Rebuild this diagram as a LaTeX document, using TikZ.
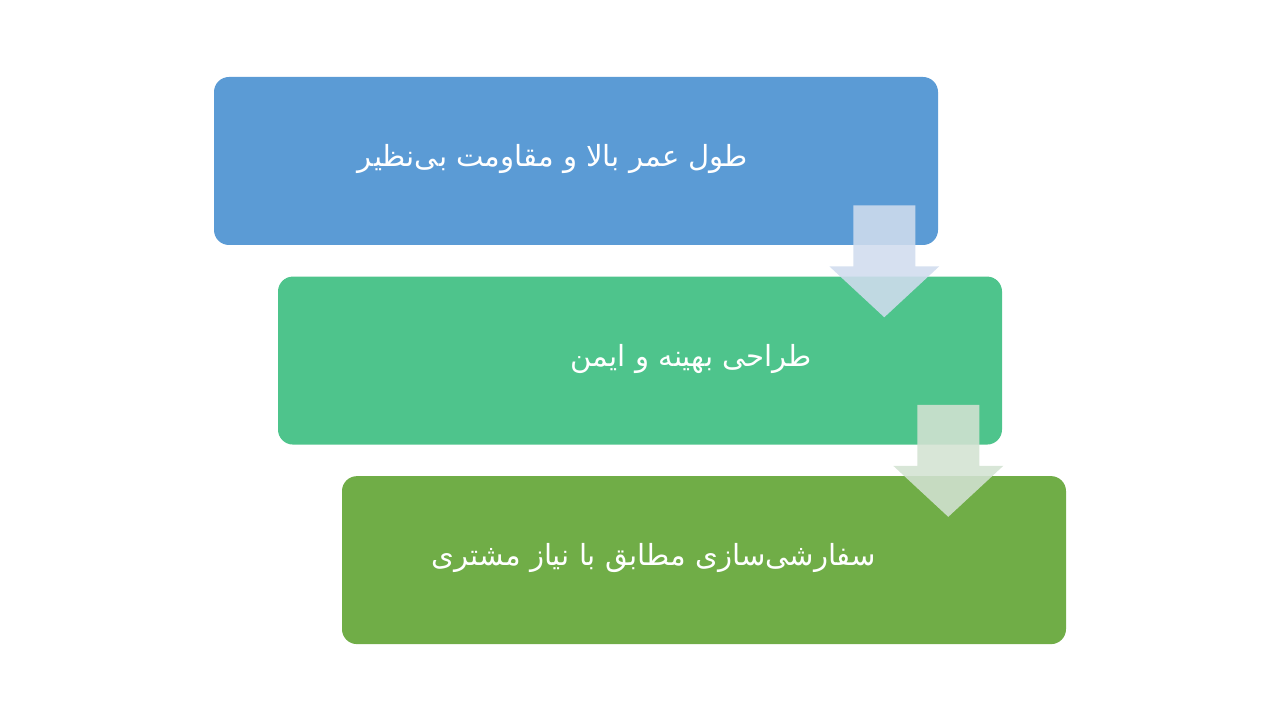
\documentclass[tikz,border=0pt]{standalone}
\usepackage{fontspec}
\usetikzlibrary{positioning}
\TeXXeTstate=1
\newfontfamily\arabicfont[Script=Arabic]{DejaVu Sans}
\definecolor{boxblue}{HTML}{5B9BD5}
\definecolor{boxgreen}{HTML}{4EC48C}
\definecolor{boxleaf}{HTML}{70AD47}
\definecolor{arrowblue}{HTML}{D0DCEE}
\definecolor{arrowsage}{HTML}{D3E2D2}

\begin{document}
\begin{tikzpicture}[
    node distance=0.775cm,  % gap between the stages
    stagebox/.style={
        rectangle,
        rounded corners=0.375cm,
        minimum width=18.1cm,
        minimum height=4.2cm,
        inner sep=0pt
    },
    stagetext/.style={
        text=white,
        font=\arabicfont\fontsize{20.7}{24}\selectfont,
        anchor=east,
        inner sep=0pt
    },
    flowarrow/.style={
        fill opacity=0.88
    }
]
\useasboundingbox (0,0) rectangle (32,18);

% Three stages, each one step lower and to the right
\node[stagebox, fill=boxblue] (stage1) at (14.4,13.975) {};
\node[stagebox, fill=boxgreen, below=of stage1, xshift=1.6cm] (stage2) {};
\node[stagebox, fill=boxleaf, below=of stage2, xshift=1.6cm] (stage3) {};

% Labels, set to the right side of each stage
\node[stagetext] (label1) at ([xshift=-4.75cm,yshift=0.05cm]stage1.east) {\beginR طول عمر بالا و مقاومت بی‌نظیر\endR};
\node[stagetext] (label2) at ([xshift=-4.75cm,yshift=0.05cm]stage2.east) {\beginR طراحی بهینه و ایمن\endR};
\node[stagetext] (label3) at ([xshift=-4.75cm,yshift=0.05cm]stage3.east) {\beginR سفارشی‌سازی مطابق با نیاز مشتری\endR};

% Block arrows from one stage down to the next
\foreach \a/\c in {stage1/arrowblue, stage2/arrowsage} {
    \coordinate (joint) at ([xshift=-1.35cm]\a.south east);
    \fill[flowarrow, fill=\c] ([shift={(-0.775,1.0)}]joint) -- ++(1.55,0) -- ++(0,-1.525)
        -- ++(0.6,0) -- ++(-1.375,-1.275) -- ++(-1.375,1.275) -- ++(0.6,0) -- cycle;
}

\end{tikzpicture}
\end{document}
